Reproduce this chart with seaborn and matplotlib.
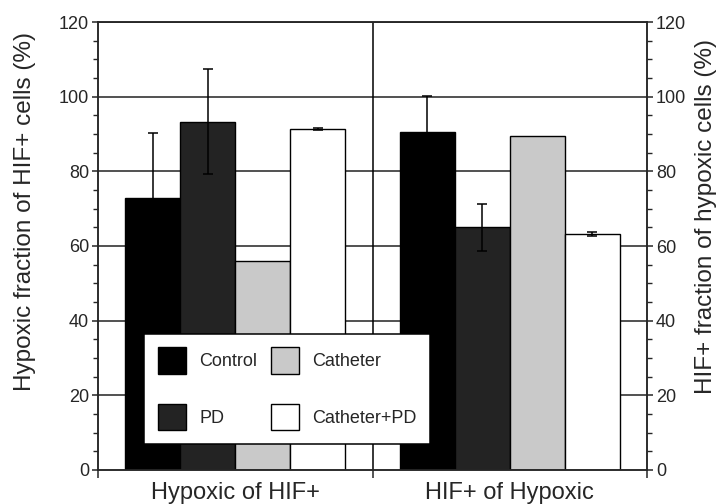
import numpy as np
import pandas as pd
import matplotlib.pyplot as plt
import seaborn as sns
from matplotlib.ticker import MultipleLocator, FixedLocator

# values
groups = ["Hypoxic of HIF+", "HIF+ of Hypoxic"]
conditions = ["Control", "PD", "Catheter", "Catheter+PD"]
control = [72.9, 90.5]
pd_vals = [93.3, 65.0]
catheter = [56.0, 89.5]
cath_pd = [91.3, 63.2]
control_err = [17.3, 9.6]
pd_err = [14.0, 6.3]
catheter_err = [np.nan, np.nan]
cath_pd_err = [0.3, 0.5]
colors = ["#000000", "#232323", "#c9c9c9", "#ffffff"]

rows = []
for cond, vals, errs in zip(conditions,
                            [control, pd_vals, catheter, cath_pd],
                            [control_err, pd_err, catheter_err, cath_pd_err]):
    for g, v, e in zip(groups, vals, errs):
        rows.append({"group": g, "condition": cond, "value": v, "err": e})
df = pd.DataFrame(rows)

sns.set_style("ticks")
plt.rcParams["font.family"] = ["Liberation Sans", "DejaVu Sans"]

fig = plt.figure(figsize=(7.26, 5.04), dpi=100)
ax = fig.add_axes([98 / 726, 34 / 504, 549 / 726, 448 / 504])

# grid behind bars
for y in range(20, 121, 20):
    ax.axhline(y, color="#222222", lw=1.1, zorder=0)
ax.axvline(0.5, color="black", lw=1.1, zorder=0)

sns.barplot(data=df, x="group", y="value", hue="condition",
            order=groups, hue_order=conditions, palette=colors,
            width=0.8, errorbar=None, edgecolor="black", linewidth=1,
            saturation=1, ax=ax, zorder=2)

for cont, cond in zip(ax.containers, conditions):
    sub = df[df["condition"] == cond].set_index("group").loc[groups]
    xs = [b.get_x() + b.get_width() / 2 for b in cont]
    ax.errorbar(xs, sub["value"].values, yerr=sub["err"].values, fmt="none",
                ecolor="black", elinewidth=1.1, capsize=3.6, capthick=1.1,
                zorder=3)

ax.set_xlim(-0.5, 1.5)
ax.set_ylim(0, 120)
ax.yaxis.set_major_locator(MultipleLocator(20))
ax.yaxis.set_minor_locator(MultipleLocator(5))
ax.xaxis.set_minor_locator(FixedLocator([-0.5, 0.5, 1.5]))
ax.tick_params(axis="x", which="major", length=0, labelsize=17, pad=9)
ax.tick_params(axis="x", which="minor", length=6, width=1.1, direction="out")
ax.tick_params(axis="y", which="major", length=4.5, width=1.1,
               labelsize=13, pad=2)
ax.tick_params(axis="y", which="minor", length=3.5, width=1.0)
ax.set_xlabel("")
ax.set_ylabel("Hypoxic fraction of HIF+ cells (%)", fontsize=17.5,
              labelpad=16, y=0.578)
for s in ax.spines.values():
    s.set_linewidth(1.1)

ax2 = ax.twinx()
ax2.set_ylim(0, 120)
ax2.yaxis.set_major_locator(MultipleLocator(20))
ax2.yaxis.set_minor_locator(MultipleLocator(5))
ax2.tick_params(axis="y", which="major", length=4.5, width=1.1,
                labelsize=13, pad=2)
ax2.tick_params(axis="y", which="minor", length=3.5, width=1.0)
ax2.set_ylabel("HIF+ fraction of hypoxic cells (%)", fontsize=17.5,
               labelpad=6, y=0.565)
for s in ax2.spines.values():
    s.set_linewidth(1.1)

handles, labels = ax.get_legend_handles_labels()
leg = ax.legend(handles, labels, ncol=2, loc="lower left",
                bbox_to_anchor=(0.084, 0.058), borderaxespad=0,
                fontsize=13, handlelength=1.55, handleheight=1.9,
                labelspacing=1.65, columnspacing=0.75, handletextpad=0.75,
                borderpad=0.75, frameon=True, fancybox=False, framealpha=1,
                edgecolor="black")
leg.get_frame().set_linewidth(1.1)

fig.savefig("out.png", dpi=100)
